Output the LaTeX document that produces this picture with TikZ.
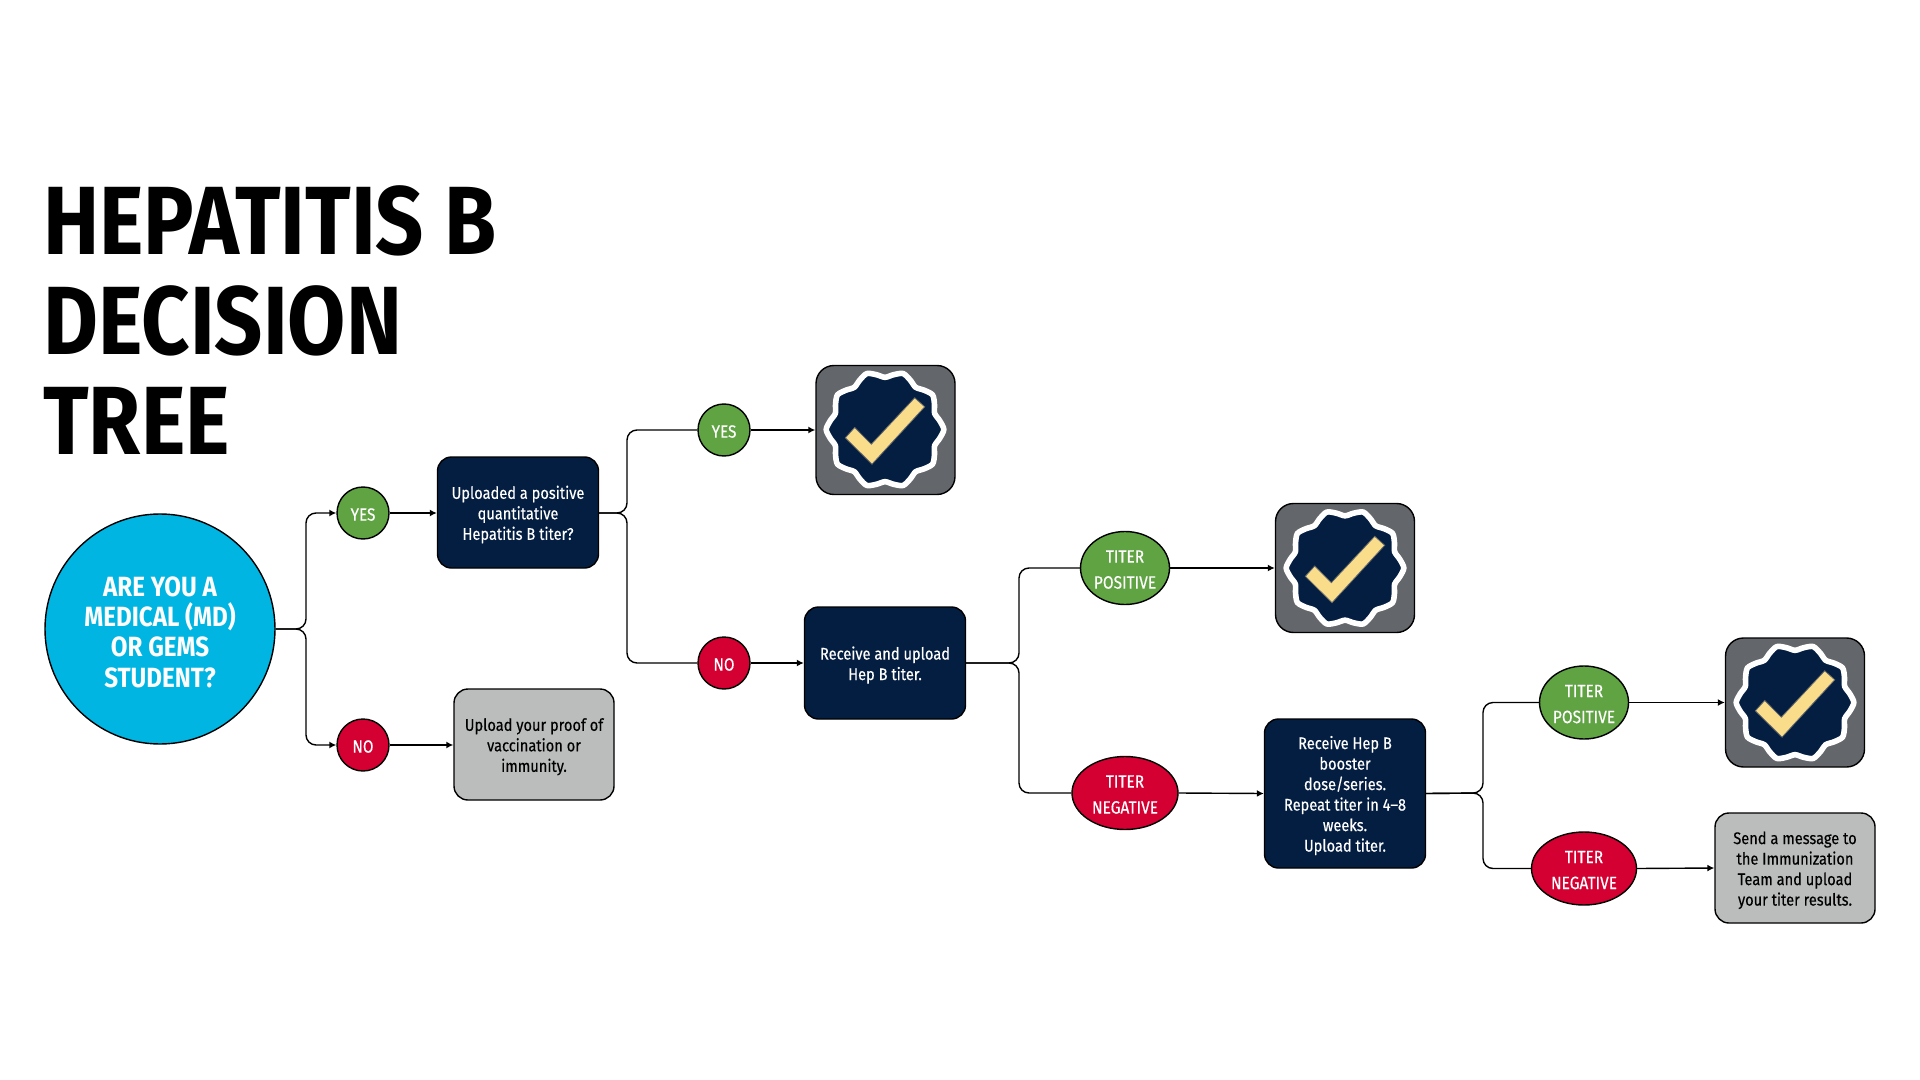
\documentclass[tikz,border=0pt]{standalone}
\usepackage{fontspec}
\setmainfont[FakeStretch=0.87,FakeBold=0.35]{Fira Sans}
\newfontfamily\titlefont[FakeStretch=0.87]{Fira Sans}
\usetikzlibrary{arrows.meta,shapes.geometric}
\definecolor{cyanb}{HTML}{00B5E2}
\definecolor{greenb}{HTML}{5FA343}
\definecolor{redb}{HTML}{D50032}
\definecolor{navyb}{HTML}{041E42}
\definecolor{grayb}{HTML}{BBBCBC}
\definecolor{slateb}{HTML}{63666A}
\definecolor{goldb}{HTML}{F9DD8A}
\newcommand{\topstrut}{\rule{0pt}{8.6pt}}
\newcommand{\ovalstrut}{\rule{0pt}{7.7pt}}
\tikzset{
  x=0.5pt,y=-0.5pt,
  outl/.style={draw=black,line width=0.7pt},
  roundbox/.style={outl,rectangle,rounded corners=7pt,inner sep=0pt,align=center,
    font=\fontsize{8.4}{10.25}\selectfont},
  navybox/.style={roundbox,fill=navyb,text=white},
  graybox/.style={roundbox,fill=grayb,text=black},
  badgebox/.style={outl,rectangle,rounded corners=9pt,fill=slateb,inner sep=0pt,minimum width=69.5pt,minimum height=64.5pt},
  yesno/.style={outl,ellipse,inner sep=0pt,text=white,align=center,minimum width=26pt,minimum height=26pt,
    font=\fontsize{8.8}{10.25}\selectfont},
  titer/.style={outl,ellipse,inner sep=0pt,text=white,align=center,minimum height=36.5pt,
    font=\fontsize{8.9}{13}\selectfont},
  conn/.style={draw=black,line width=0.7pt,rounded corners=5pt},
  tip/.style={-{Latex[length=3.5pt,width=3.5pt]}},
  seal/.pic={
    \draw[white,fill=navyb,line width=2.8pt]
      plot[smooth cycle,samples=40,domain=0:351,variable=\t]
      ({(55.5+3.3*cos(10*\t))*cos(\t)},{(55.5+3.3*cos(10*\t))*sin(\t)});
    \draw[slateb,fill=goldb,line width=0.4pt]
      (-39.7,8.3)--(-30.3,-2)--(-13.7,14.7)--(29.7,-31.7)--(39.7,-22.7)--(-13,34.7)--cycle;
  }
}
\begin{document}
\begin{tikzpicture}
\useasboundingbox (0,0) rectangle (1920,1080);
\fill[white] (0,0) rectangle (1920,1080);

\node[anchor=north west,inner sep=0pt,align=left,font=\titlefont\bfseries\fontsize{48.5}{50}\selectfont] (title) at (43,185)
  {HEPATITIS B\\DECISION\\TREE};

\node[outl,circle,fill=cyanb,minimum size=115pt,inner sep=0pt,text=white,align=center,
  font=\titlefont\bfseries\fontsize{13.9}{15.2}\selectfont] (big) at (160,629)
  {\rule{0pt}{13pt}ARE YOU A\\MEDICAL (MD)\\OR GEMS\\STUDENT?};

\node[yesno,fill=greenb] (yes1) at (363,513) {\ovalstrut YES};
\node[yesno,fill=redb] (no1) at (363,745) {\ovalstrut NO};
\node[navybox,minimum width=80.5pt,minimum height=55.5pt] (q1) at (518,512.5)
  {\topstrut Uploaded a positive\\quantitative\\Hepatitis B titer?};
\node[graybox,minimum width=80pt,minimum height=55.5pt] (g1) at (534,744.5)
  {\topstrut Upload your proof of\\vaccination or\\immunity.};

\node[yesno,fill=greenb] (yes2) at (724,430) {\ovalstrut YES};
\node[yesno,fill=redb] (no2) at (724,663) {\ovalstrut NO};
\node[badgebox] (b1) at (885.5,430) {};
\pic at (885,429.5) {seal};
\node[navybox,minimum width=80.5pt,minimum height=56pt] (q2) at (885,663)
  {\topstrut Receive and upload\\Hep B titer.};

\node[titer,fill=greenb,minimum width=44.5pt] (tp1) at (1125,568) {\ovalstrut TITER\\POSITIVE};
\node[titer,fill=redb,minimum width=53pt] (tn1) at (1125,793) {\ovalstrut TITER\\NEGATIVE};
\node[badgebox] (b2) at (1345,568) {};
\pic at (1345,568) {seal};
\node[navybox,minimum width=80.5pt,minimum height=74.5pt] (q3) at (1345,793.5)
  {\topstrut Receive Hep B\\booster\\dose/series.\\Repeat titer in 4--8\\weeks.\\Upload titer.};

\node[titer,fill=greenb,minimum width=44.5pt] (tp2) at (1584,702.5) {\ovalstrut TITER\\POSITIVE};
\node[titer,fill=redb,minimum width=52.5pt] (tn2) at (1584,868.5) {\ovalstrut TITER\\NEGATIVE};
\node[badgebox] (b3) at (1795,702.5) {};
\pic at (1795,702.5) {seal};
\node[graybox,minimum width=80pt,minimum height=55pt] (g2) at (1795,868)
  {\topstrut Send a message to\\the Immunization\\Team and upload\\your titer results.};

\coordinate (j1) at (306,629);
\coordinate (j2) at (627,513);
\coordinate (j3) at (1019,663);
\coordinate (j4) at (1483,793);

\draw[conn,tip] (big.east) -- (j1) |- (yes1.west);
\draw[conn,tip] (big.east) -- (j1) |- (no1.west);
\draw[conn,tip] (yes1.east) -- (yes1.east -| q1.west);
\draw[conn,tip] (no1.east) -- (no1.east -| g1.west);
\draw[conn] (q1.east |- j2) -- (j2) |- (yes2.west);
\draw[conn] (q1.east |- j2) -- (j2) |- (no2.west);
\draw[conn,tip] (yes2.east) -- (b1.west);
\draw[conn,tip] (no2.east) -- (q2.west);
\draw[conn] (q2.east) -- (j3) |- (tp1.west);
\draw[conn] (q2.east) -- (j3) |- (tn1.west);
\draw[conn,tip] (tp1.east) -- (b2.west);
\draw[conn,tip] (tn1.east) -- (q3.west);
\draw[conn] (q3.east) -- (j4) |- (tp2.west);
\draw[conn] (q3.east) -- (j4) |- (tn2.west);
\draw[conn,tip] (tp2.east) -- (b3.west);
\draw[conn,tip] (tn2.east) -- (g2.west);
\end{tikzpicture}
\end{document}
